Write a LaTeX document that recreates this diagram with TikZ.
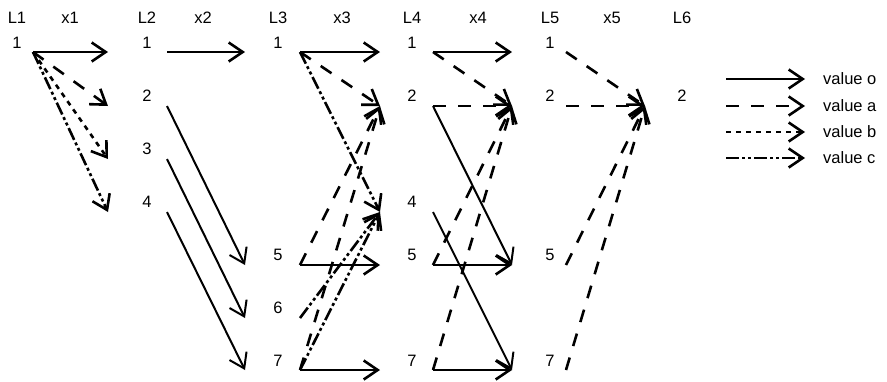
\documentclass[tikz,border=0pt]{standalone}
\usepackage{fontspec}
\setmainfont{Liberation Sans}
\usetikzlibrary{arrows.meta}

\begin{document}
\begin{tikzpicture}[x=1pt, y=-1pt, every node/.style={font=\fontsize{16.5}{19}\selectfont, inner sep=0pt},
    vo/.style={line width=2.6pt, -{Straight Barb[length=14pt,width=19pt]}},
    vd/.style={vo, line width=2pt},
    va/.style={vo, dash pattern=on 13pt off 12pt},
    vb/.style={vo, dash pattern=on 5pt off 5pt},
    vc/.style={vo, dash pattern=on 13pt off 3pt on 3pt off 3pt on 3pt off 3pt}]
    \useasboundingbox (0,0) rectangle (887,381);
    % column headers
    \node (L1) at (17,18) {L1};
    \node (x1) at (70,18) {x1};
    \node (L2) at (147,18) {L2};
    \node (x2) at (203,18) {x2};
    \node (L3) at (278,18) {L3};
    \node (x3) at (342,18) {x3};
    \node (L4) at (412,18) {L4};
    \node (x4) at (478,18) {x4};
    \node (L5) at (550,18) {L5};
    \node (x5) at (612,18) {x5};
    \node (L6) at (682,18) {L6};
    % numbers
    \node (n1-1) at (17,43) {1};
    \node (n2-1) at (147,43) {1};
    \node (n2-2) at (147,96) {2};
    \node (n2-3) at (147,149) {3};
    \node (n2-4) at (147,202) {4};
    \node (n3-1) at (278,43) {1};
    \node (n3-5) at (278,255) {5};
    \node (n3-6) at (278,308) {6};
    \node (n3-7) at (278,361) {7};
    \node (n4-1) at (412,43) {1};
    \node (n4-2) at (412,96) {2};
    \node (n4-4) at (412,202) {4};
    \node (n4-5) at (412,255) {5};
    \node (n4-7) at (412,361) {7};
    \node (n5-1) at (550,43) {1};
    \node (n5-2) at (550,96) {2};
    \node (n5-5) at (550,255) {5};
    \node (n5-7) at (550,361) {7};
    \node (n6-2) at (682,96) {2};
    % arrow tails and heads
    \coordinate (s1-1) at (33,52);
    \coordinate (e2-1) at (108,52);
    \coordinate (e2-2) at (108,106);
    \coordinate (e2-3) at (108,159);
    \coordinate (e2-4) at (108,212);
    \coordinate (s2-1) at (167,52);
    \coordinate (s2-2) at (167,106);
    \coordinate (s2-3) at (167,159);
    \coordinate (s2-4) at (167,212);
    \coordinate (e3-1) at (245,52);
    \coordinate (e3-5) at (245,265);
    \coordinate (e3-6) at (245,318);
    \coordinate (e3-7) at (245,370);
    \coordinate (s3-1) at (300,52);
    \coordinate (s3-5) at (300,265);
    \coordinate (s3-6) at (300,318);
    \coordinate (s3-7) at (300,370);
    \coordinate (e4-1) at (380,52);
    \coordinate (e4-2) at (380,106);
    \coordinate (e4-4) at (380,212);
    \coordinate (e4-5) at (380,265);
    \coordinate (e4-7) at (380,370);
    \coordinate (s4-1) at (433,52);
    \coordinate (s4-2) at (433,106);
    \coordinate (s4-4) at (433,212);
    \coordinate (s4-5) at (433,265);
    \coordinate (s4-7) at (433,370);
    \coordinate (e5-1) at (512,52);
    \coordinate (e5-2) at (512,106);
    \coordinate (e5-5) at (512,265);
    \coordinate (e5-7) at (512,370);
    \coordinate (s5-1) at (566,52);
    \coordinate (s5-2) at (566,106);
    \coordinate (s5-5) at (566,265);
    \coordinate (s5-7) at (566,370);
    \coordinate (e6-2) at (645,106);
    % L1 -> L2
    \draw[vo] (s1-1) -- (e2-1);
    \draw[va] (s1-1) -- (e2-2);
    \draw[vb] (s1-1) -- (e2-3);
    \draw[vc] (s1-1) -- (e2-4);
    % L2 -> L3
    \draw[vo] (s2-1) -- (e3-1);
    \draw[vd] (s2-2) -- (e3-5);
    \draw[vd] (s2-3) -- (e3-6);
    \draw[vd] (s2-4) -- (e3-7);
    % L3 -> L4
    \draw[vo] (s3-1) -- (e4-1);
    \draw[va] (s3-1) -- (e4-2);
    \draw[vc] (s3-1) -- (e4-4);
    \draw[vo] (s3-5) -- (e4-5);
    \draw[va] (s3-5) -- (e4-2);
    \draw[vc] (s3-6) -- (e4-4);
    \draw[vo] (s3-7) -- (e4-7);
    \draw[va] (s3-7) -- (e4-2);
    \draw[vc] (s3-7) -- (e4-4);
    % L4 -> L5
    \draw[vo] (s4-1) -- (e5-1);
    \draw[va] (s4-1) -- (e5-2);
    \draw[va] (s4-2) -- (e5-2);
    \draw[vd] (s4-2) -- (e5-5);
    \draw[vd] (s4-4) -- (e5-7);
    \draw[vo] (s4-5) -- (e5-5);
    \draw[va] (s4-5) -- (e5-2);
    \draw[vo] (s4-7) -- (e5-7);
    \draw[va] (s4-7) -- (e5-2);
    % L5 -> L6
    \draw[va] (s5-1) -- (e6-2);
    \draw[va] (s5-2) -- (e6-2);
    \draw[va] (s5-5) -- (e6-2);
    \draw[va] (s5-7) -- (e6-2);
    % legend
    \node[anchor=west] (lo) at (823,79) {value o};
    \node[anchor=west] (la) at (823,106) {value a};
    \node[anchor=west] (lb) at (823,132) {value b};
    \node[anchor=west] (lc) at (823,158) {value c};
    \coordinate (ko) at (726,79);
    \coordinate (ka) at (726,106);
    \coordinate (kb) at (726,132);
    \coordinate (kc) at (726,158);
    \draw[vo] (ko) -- ([xshift=-18pt]lo.west);
    \draw[va] (ka) -- ([xshift=-18pt]la.west);
    \draw[vb] (kb) -- ([xshift=-18pt]lb.west);
    \draw[vc] (kc) -- ([xshift=-18pt]lc.west);
\end{tikzpicture}
\end{document}
